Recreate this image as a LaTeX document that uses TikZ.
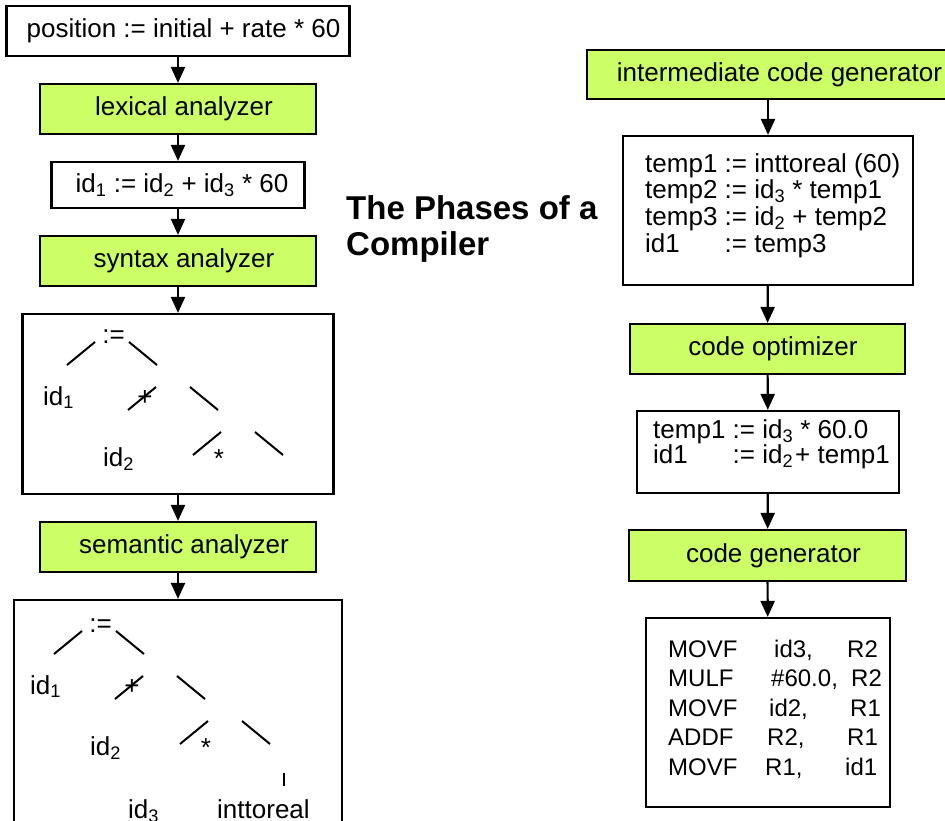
\documentclass[tikz,border=0pt]{standalone}
\usepackage{fontspec}
\setmainfont{Liberation Sans}
\usetikzlibrary{arrows.meta}
\definecolor{phasegreen}{RGB}{204,255,102}
\newcommand\fsz[1]{\fontsize{#1pt}{#1pt}\selectfont}

\begin{document}
\begin{tikzpicture}[x=1pt,y=-1pt,
  every node/.style={font=\fsz{26}},
  box/.style={draw, line width=2.2pt, fill=white, inner sep=0pt},
  phase/.style={box, fill=phasegreen, minimum height=50pt},
  shifttext/.style={execute at begin node={\hspace*{#1}}},
  flow/.style={line width=2.2pt, -{Triangle[length=16pt,width=14pt]}},
  branch/.style={line width=2pt},
  txt/.style={inner sep=0pt, anchor=base west},
  ctxt/.style={inner sep=0pt, anchor=base},
  asm/.style={txt, font=\fsz{24}},
  title/.style={txt, font=\fsz{33}\bfseries},
  exprtree/.pic={
    \draw[branch] (67,365) -- (95,342);
    \draw[branch] (129,342) -- (157,365);
    \draw[branch] (128,410) -- (156,387);
    \draw[branch] (190,387) -- (218,410);
    \draw[branch] (193,455) -- (221,432);
    \draw[branch] (255,432) -- (283,455);
    \node[ctxt] (-assign) at (113.5,343) {:=};
    \node[txt]  (-lhs)    at (43,405)    {id\textsubscript{1}};
    \node[ctxt] (-plus)   at (145,405)   {+};
    \node[txt]  (-left)   at (103,466)   {id\textsubscript{2}};
    \node[ctxt] (-times)  at (219,467)   {*};
  }
]
\useasboundingbox (0,0) rectangle (945,820);
\clip (0,0) rectangle (945,820);
\fill[white] (0,0) rectangle (945,820);

% ---- left column: analysis phases ----
\node[box, minimum width=343pt, minimum height=50pt, shifttext=11pt] (src) at (178,31)
  {position := initial + rate * 60};
\node[phase, minimum width=276pt, shifttext=12pt] (lex) at (178,109) {lexical analyzer};
\node[box, minimum width=253pt, minimum height=46pt, shifttext=8pt] (tok) at (178,185)
  {id\textsubscript{1} := id\textsubscript{2} + id\textsubscript{3} * 60};
\node[phase, minimum width=276pt, shifttext=12pt] (syn) at (178,261) {syntax analyzer};
\node[box, minimum width=311pt, minimum height=180pt] (parse) at (178,404) {};
\node[phase, minimum width=276pt, shifttext=12pt] (sem) at (178,547) {semantic analyzer};
\node[box, minimum width=328pt, minimum height=260pt] (annot) at (178,730) {};

\draw[flow] (src) -- (lex);
\draw[flow] (lex) -- (tok);
\draw[flow] (tok) -- (syn);
\draw[flow] (syn) -- (parse);
\draw[flow] (parse) -- (sem);
\draw[flow] (sem) -- (annot);

% syntax tree, then the annotated tree with the conversion node
\pic (pt) at (0,0) {exprtree};
\pic (at) at (-13,289) {exprtree};
\draw[branch] (284,773) -- (284,786);
\node[txt] (at-right) at (128,818) {id\textsubscript{3}};
\node[txt] (at-conv) at (217,818) {inttoreal};

% ---- title ----
\node[title] (title1) at (346,219) {The Phases of a};
\node[title] (title2) at (346,255) {Compiler};

% ---- right column: synthesis phases ----
\node[phase, minimum width=385pt, minimum height=49pt] (icg) at (779.5,74.5)
  {intermediate code generator};
\node[box, minimum width=290pt, minimum height=149pt] (three) at (768,210.5) {};
\node[txt] (three1) at (645,172) {temp1 := inttoreal (60)};
\node[txt] (three2) at (645,198) {temp2 := id\textsubscript{3} * temp1};
\node[txt] (three3) at (645,225) {temp3 := id\textsubscript{2} + temp2};
\node[txt] (three4) at (645,252) {\rlap{id1}\phantom{temp1} := temp3};

\node[phase, minimum width=275pt, shifttext=11pt] (opt) at (767.5,349) {code optimizer};
\node[box, minimum width=262pt, minimum height=82pt] (optout) at (768,452) {};
\node[txt] (opt1) at (653,438) {temp1 := id\textsubscript{3} * 60.0};
\node[txt] (opt2) at (653,463) {\rlap{id1}\phantom{temp1} := id\textsubscript{2}\kern2pt+ temp1};

\node[phase, minimum width=277pt, minimum height=51pt, shifttext=12pt] (cg) at (767.5,555.5)
  {code generator};
\node[box, minimum width=244pt, minimum height=189pt] (target) at (768,712.5) {};
\foreach \yy/\op/\ax/\arg/\bx/\dst [count=\i] in
  {657/MOVF/774/{id3,}/847/R2,
   686/MULF/771/{\#60.0,}/851/R2,
   716/MOVF/769/{id2,}/850/R1,
   745/ADDF/767/{R2,}/847/R1,
   775/MOVF/765/{R1,}/845/id1}
{
  \node[asm] (opc\i) at (668,\yy) {\op};
  \node[asm] (arg\i) at (\ax,\yy) {\arg};
  \node[asm] (dst\i) at (\bx,\yy) {\dst};
}

\draw[flow] (three.north |- icg.south) -- (three.north);
\draw[flow] (three) -- (opt);
\draw[flow] (opt) -- (optout);
\draw[flow] (optout) -- (cg);
\draw[flow] (cg) -- (target);
\end{tikzpicture}
\end{document}
